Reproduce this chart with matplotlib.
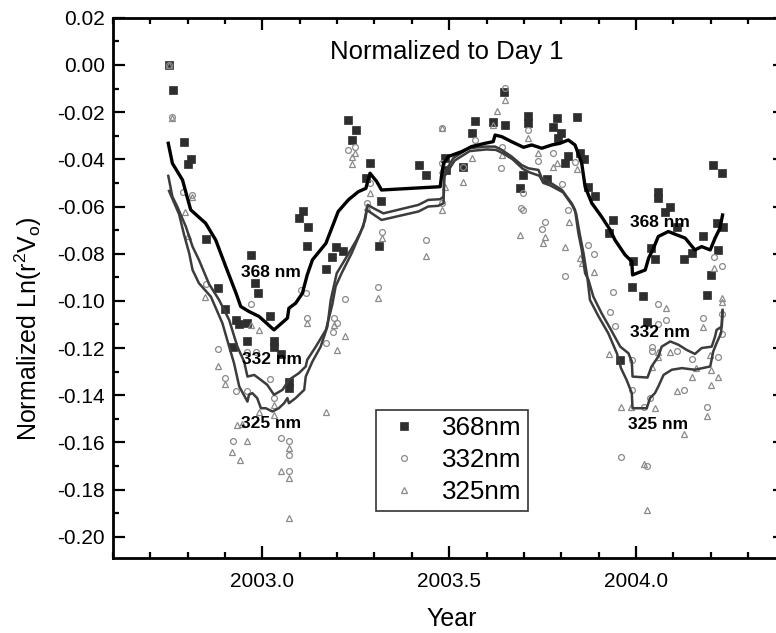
import matplotlib
matplotlib.use("Agg")
import matplotlib.pyplot as plt
from matplotlib.ticker import MultipleLocator

plt.rcParams['font.family'] = ['Liberation Sans', 'DejaVu Sans']
plt.rcParams['mathtext.fontset'] = 'custom'
plt.rcParams['mathtext.rm'] = 'Liberation Sans'

# ---- data: 368 nm points (filled squares)
x368 = [2002.750, 2002.760, 2002.789, 2002.800, 2002.809, 2002.849, 2002.880, 2002.900, 2002.920, 2002.929,
        2002.938, 2002.959, 2002.960, 2002.970, 2002.980, 2002.988, 2003.021, 2003.030, 2003.030, 2003.051,
        2003.070, 2003.070, 2003.098, 2003.110, 2003.120, 2003.121, 2003.170, 2003.187, 2003.196, 2003.217,
        2003.230, 2003.239, 2003.251, 2003.277, 2003.288, 2003.311, 2003.318, 2003.418, 2003.438, 2003.489,
        2003.491, 2003.538, 2003.560, 2003.569, 2003.617, 2003.647, 2003.650, 2003.690, 2003.699, 2003.710,
        2003.710, 2003.761, 2003.779, 2003.788, 2003.791, 2003.800, 2003.810, 2003.819, 2003.841, 2003.851,
        2003.861, 2003.871, 2003.891, 2003.928, 2003.940, 2003.958, 2003.989, 2003.991, 2004.020, 2004.030,
        2004.040, 2004.051, 2004.060, 2004.060, 2004.090, 2004.079, 2004.109, 2004.130, 2004.149, 2004.179,
        2004.190, 2004.200, 2004.207, 2004.218, 2004.221, 2004.230, 2004.232]
y368 = [0.0000, -0.0107, -0.0326, -0.0418, -0.0398, -0.0737, -0.0946, -0.1036, -0.1194, -0.1079,
        -0.1100, -0.1169, -0.1094, -0.0806, -0.0925, -0.0968, -0.1064, -0.1168, -0.1194, -0.1225,
        -0.1342, -0.1370, -0.0647, -0.0617, -0.0768, -0.0686, -0.0866, -0.0812, -0.0770, -0.0787,
        -0.0233, -0.0318, -0.0275, -0.0478, -0.0417, -0.0766, -0.0576, -0.0424, -0.0465, -0.0395,
        -0.0445, -0.0434, -0.0287, -0.0237, -0.0240, -0.0113, -0.0255, -0.0523, -0.0466, -0.0216,
        -0.0244, -0.0484, -0.0264, -0.0226, -0.0308, -0.0287, -0.0417, -0.0384, -0.0219, -0.0373,
        -0.0399, -0.0516, -0.0555, -0.0713, -0.0657, -0.1250, -0.0942, -0.0833, -0.0981, -0.1090,
        -0.0776, -0.0823, -0.0537, -0.0565, -0.0604, -0.0624, -0.0685, -0.0822, -0.0798, -0.0723,
        -0.0975, -0.0890, -0.0424, -0.0671, -0.0784, -0.0456, -0.0685]

# ---- 332 nm points (open circles)
x332 = [2002.750, 2002.759, 2002.788, 2002.811, 2002.850, 2002.880, 2002.901, 2002.920, 2002.930, 2002.960,
        2002.960, 2002.969, 2002.982, 2003.020, 2003.031, 2003.051, 2003.070, 2003.070, 2003.070, 2003.103,
        2003.118, 2003.120, 2003.170, 2003.192, 2003.199, 2003.190, 2003.220, 2003.230, 2003.248, 2003.279,
        2003.288, 2003.309, 2003.319, 2003.437, 2003.480, 2003.480, 2003.480, 2003.538, 2003.569, 2003.638,
        2003.641, 2003.650, 2003.692, 2003.699, 2003.699, 2003.710, 2003.739, 2003.748, 2003.757, 2003.779,
        2003.802, 2003.810, 2003.819, 2003.837, 2003.871, 2003.889, 2003.931, 2003.940, 2003.944, 2003.959,
        2003.989, 2003.989, 2004.023, 2004.030, 2004.038, 2004.042, 2004.042, 2004.060, 2004.060, 2004.080,
        2004.110, 2004.130, 2004.149, 2004.179, 2004.190, 2004.209, 2004.221, 2004.230, 2004.230, 2004.230]
y332 = [0.0000, -0.0220, -0.0537, -0.0551, -0.0928, -0.1205, -0.1325, -0.1596, -0.1384, -0.1215,
        -0.1384, -0.1014, -0.1215, -0.1332, -0.1412, -0.1582, -0.1596, -0.1653, -0.1723, -0.0956,
        -0.0968, -0.1073, -0.1179, -0.1073, -0.1092, -0.1130, -0.0993, -0.0360, -0.0346, -0.0586,
        -0.0502, -0.0942, -0.0706, -0.0742, -0.0268, -0.0417, -0.0586, -0.0434, -0.0318, -0.0435,
        -0.0346, -0.0099, -0.0608, -0.0544, -0.0614, -0.0275, -0.0409, -0.0695, -0.0664, -0.0373,
        -0.0506, -0.0894, -0.0614, -0.0410, -0.0763, -0.0803, -0.1047, -0.0963, -0.1106, -0.1660,
        -0.1250, -0.1377, -0.1448, -0.1698, -0.1412, -0.1194, -0.1212, -0.1013, -0.1099, -0.1081,
        -0.1211, -0.1377, -0.1247, -0.1071, -0.1451, -0.0812, -0.1239, -0.0854, -0.1056, -0.1141]

# ---- 325 nm points (open triangles)
x325 = [2002.750, 2002.759, 2002.793, 2002.802, 2002.811, 2002.847, 2002.880, 2002.901, 2002.918, 2002.933,
        2002.940, 2002.946, 2002.960, 2002.969, 2002.991, 2002.991, 2003.030, 2003.032, 2003.051, 2003.070,
        2003.070, 2003.070, 2003.120, 2003.170, 2003.192, 2003.199, 2003.220, 2003.239, 2003.248, 2003.239,
        2003.279, 2003.288, 2003.309, 2003.319, 2003.438, 2003.480, 2003.480, 2003.480, 2003.489, 2003.538,
        2003.560, 2003.617, 2003.629, 2003.641, 2003.650, 2003.690, 2003.710, 2003.739, 2003.750, 2003.757,
        2003.779, 2003.788, 2003.810, 2003.821, 2003.842, 2003.851, 2003.855, 2003.889, 2003.929, 2003.960,
        2003.987, 2004.023, 2004.030, 2004.042, 2004.050, 2004.058, 2004.060, 2004.080, 2004.092, 2004.109,
        2004.130, 2004.149, 2004.160, 2004.179, 2004.190, 2004.198, 2004.200, 2004.201, 2004.209, 2004.221,
        2004.230, 2004.230]
y325 = [0.0000, -0.0226, -0.0624, -0.0723, -0.0560, -0.0982, -0.1274, -0.1353, -0.1641, -0.1528,
        -0.1674, -0.1521, -0.1593, -0.1102, -0.1123, -0.1469, -0.1441, -0.1483, -0.1720, -0.1624,
        -0.1751, -0.1919, -0.1092, -0.1469, -0.1102, -0.1208, -0.1151, -0.0388, -0.0373, -0.0419,
        -0.0600, -0.0544, -0.0989, -0.0734, -0.0809, -0.0268, -0.0445, -0.0614, -0.0516, -0.0494,
        -0.0395, -0.0254, -0.0194, -0.0381, -0.0148, -0.0720, -0.0311, -0.0373, -0.0753, -0.0730,
        -0.0432, -0.0417, -0.0772, -0.0664, -0.0442, -0.0819, -0.0840, -0.0878, -0.1225, -0.1448,
        -0.1448, -0.1691, -0.1886, -0.1281, -0.1455, -0.1239, -0.1215, -0.1032, -0.1215, -0.1384,
        -0.1564, -0.1323, -0.1285, -0.1109, -0.1486, -0.1229, -0.1295, -0.1356, -0.0861, -0.1323,
        -0.0989, -0.1003]

# ---- smoothed curves
lx368 = [2002.748, 2002.759, 2002.786, 2002.808, 2002.848, 2002.875, 2002.902, 2002.930, 2002.942, 2002.964,
         2002.991, 2003.031, 2003.067, 2003.071, 2003.089, 2003.107, 2003.120, 2003.134, 2003.170, 2003.203,
         2003.230, 2003.257, 2003.277, 2003.288, 2003.306, 2003.319, 2003.476, 2003.480, 2003.485, 2003.498,
         2003.534, 2003.560, 2003.596, 2003.618, 2003.623, 2003.641, 2003.667, 2003.699, 2003.721, 2003.748,
         2003.775, 2003.797, 2003.819, 2003.837, 2003.855, 2003.864, 2003.882, 2003.908, 2003.931, 2003.944,
         2003.971, 2003.989, 2003.991, 2004.025, 2004.034, 2004.047, 2004.060, 2004.087, 2004.109, 2004.132,
         2004.158, 2004.176, 2004.199, 2004.212, 2004.225, 2004.232]
ly368 = [-0.0332, -0.0417, -0.0487, -0.0614, -0.0671, -0.0742, -0.0855, -0.0970, -0.1024, -0.1045,
         -0.1066, -0.1123, -0.1073, -0.1031, -0.1010, -0.0968, -0.0890, -0.0826, -0.0756, -0.0621,
         -0.0572, -0.0537, -0.0523, -0.0459, -0.0494, -0.0530, -0.0516, -0.0466, -0.0417, -0.0388,
         -0.0367, -0.0346, -0.0332, -0.0325, -0.0297, -0.0304, -0.0325, -0.0349, -0.0339, -0.0353,
         -0.0339, -0.0332, -0.0318, -0.0339, -0.0417, -0.0516, -0.0586, -0.0643, -0.0699, -0.0742,
         -0.0805, -0.0833, -0.0890, -0.0869, -0.0819, -0.0777, -0.0727, -0.0706, -0.0720, -0.0734,
         -0.0784, -0.0770, -0.0784, -0.0734, -0.0692, -0.0636]

lx332 = [2002.748, 2002.759, 2002.772, 2002.795, 2002.813, 2002.830, 2002.857, 2002.884, 2002.911, 2002.933,
         2002.951, 2002.960, 2002.978, 2002.996, 2003.013, 2003.031, 2003.054, 2003.071, 2003.098, 2003.116,
         2003.120, 2003.143, 2003.170, 2003.187, 2003.196, 2003.212, 2003.239, 2003.262, 2003.275, 2003.282,
         2003.297, 2003.324, 2003.418, 2003.444, 2003.476, 2003.485, 2003.487, 2003.511, 2003.552, 2003.596,
         2003.623, 2003.641, 2003.667, 2003.694, 2003.712, 2003.739, 2003.748, 2003.766, 2003.802, 2003.828,
         2003.837, 2003.846, 2003.855, 2003.864, 2003.873, 2003.886, 2003.908, 2003.931, 2003.958, 2003.980,
         2003.989, 2003.991, 2004.031, 2004.042, 2004.060, 2004.069, 2004.092, 2004.114, 2004.136, 2004.158,
         2004.176, 2004.203, 2004.212, 2004.216, 2004.230, 2004.232]
ly332 = [-0.0470, -0.0558, -0.0600, -0.0685, -0.0770, -0.0826, -0.0928, -0.0996, -0.1081, -0.1194,
         -0.1257, -0.1321, -0.1314, -0.1335, -0.1356, -0.1398, -0.1377, -0.1335, -0.1306, -0.1278,
         -0.1250, -0.1194, -0.1123, -0.1017, -0.0939, -0.0883, -0.0798, -0.0713, -0.0657, -0.0593,
         -0.0607, -0.0629, -0.0593, -0.0572, -0.0569, -0.0558, -0.0459, -0.0395, -0.0353, -0.0346,
         -0.0346, -0.0360, -0.0388, -0.0424, -0.0438, -0.0445, -0.0480, -0.0494, -0.0530, -0.0586,
         -0.0614, -0.0713, -0.0784, -0.0883, -0.0911, -0.0982, -0.1052, -0.1116, -0.1194, -0.1222,
         -0.1257, -0.1321, -0.1325, -0.1278, -0.1236, -0.1194, -0.1172, -0.1186, -0.1208, -0.1225,
         -0.1200, -0.1194, -0.1151, -0.1123, -0.1109, -0.1038]

lx325 = [2002.750, 2002.777, 2002.790, 2002.804, 2002.813, 2002.830, 2002.862, 2002.893, 2002.911, 2002.924,
         2002.938, 2002.960, 2002.964, 2002.973, 2002.986, 2002.996, 2003.009, 2003.027, 2003.044, 2003.058,
         2003.067, 2003.071, 2003.089, 2003.112, 2003.116, 2003.134, 2003.156, 2003.174, 2003.183, 2003.199,
         2003.226, 2003.252, 2003.270, 2003.279, 2003.319, 2003.418, 2003.444, 2003.471, 2003.485, 2003.487,
         2003.515, 2003.555, 2003.600, 2003.625, 2003.645, 2003.670, 2003.697, 2003.715, 2003.742, 2003.752,
         2003.770, 2003.805, 2003.830, 2003.840, 2003.850, 2003.860, 2003.870, 2003.877, 2003.900, 2003.926,
         2003.949, 2003.960, 2003.975, 2003.989, 2003.991, 2004.029, 2004.038, 2004.051, 2004.060, 2004.074,
         2004.096, 2004.123, 2004.158, 2004.199, 2004.207, 2004.216, 2004.228, 2004.230, 2004.232]
ly325 = [-0.0534, -0.0633, -0.0718, -0.0798, -0.0869, -0.0925, -0.0982, -0.1095, -0.1194, -0.1264,
         -0.1363, -0.1427, -0.1398, -0.1391, -0.1412, -0.1455, -0.1455, -0.1469, -0.1455, -0.1434,
         -0.1412, -0.1434, -0.1412, -0.1377, -0.1321, -0.1257, -0.1194, -0.1109, -0.0996, -0.0883,
         -0.0812, -0.0742, -0.0685, -0.0614, -0.0657, -0.0621, -0.0600, -0.0597, -0.0586, -0.0473,
         -0.0405, -0.0365, -0.0358, -0.0360, -0.0375, -0.0400, -0.0440, -0.0455, -0.0470, -0.0500,
         -0.0510, -0.0540, -0.0596, -0.0630, -0.0720, -0.0800, -0.0900, -0.0996, -0.1066, -0.1137,
         -0.1222, -0.1285, -0.1335, -0.1391, -0.1455, -0.1455, -0.1412, -0.1391, -0.1363, -0.1314,
         -0.1292, -0.1285, -0.1292, -0.1278, -0.1215, -0.1179, -0.1137, -0.1095, -0.1045]

legend_labels = ['368nm', '332nm', '325nm']
curve_labels = ['368 nm', '332 nm', '325 nm']
title_text = 'Normalized to Day 1'

W, H = 776, 633
fig = plt.figure(figsize=(W / 100, H / 100), dpi=100)
left, right, top, bottom = 113, 785.3, 17.8, 558
ax = fig.add_axes([left / W, (H - bottom) / H, (right - left) / W, (bottom - top) / H])

sq = ax.plot(x368, y368, ls='none', marker='s', ms=5.4, mfc='#2e2e2e', mec='#2e2e2e', mew=0.5,
             label=legend_labels[0], zorder=2)[0]
ci = ax.plot(x332, y332, ls='none', marker='o', ms=4.2, mfc='none', mec='#8a8a8a', mew=0.9,
             label=legend_labels[1], zorder=3)[0]
tr = ax.plot(x325, y325, ls='none', marker='^', ms=4.8, mfc='none', mec='#8a8a8a', mew=0.9,
             label=legend_labels[2], zorder=3)[0]

ax.plot(lx325, ly325, color='#3c3c3c', lw=1.8, zorder=4)
ax.plot(lx332, ly332, color='#3c3c3c', lw=1.8, zorder=4)
ax.plot(lx368, ly368, color='#000000', lw=2.4, zorder=5)

ax.set_xlim(2002.6, 2004.4)
ax.set_ylim(-0.209, 0.02)

ax.xaxis.set_major_locator(MultipleLocator(0.5))
ax.xaxis.set_minor_locator(MultipleLocator(0.1))
ax.yaxis.set_major_locator(MultipleLocator(0.02))
ax.yaxis.set_minor_locator(MultipleLocator(0.01))
ax.xaxis.set_major_formatter(plt.FuncFormatter(lambda v, p: f'{v:.1f}'))
ax.yaxis.set_major_formatter(plt.FuncFormatter(lambda v, p: f'{v:.2f}'.replace('-0.00', '0.00')))

ax.tick_params(which='both', direction='in', top=True, right=True, width=1.6, colors='black')
ax.tick_params(which='major', length=8.5)
ax.tick_params(which='minor', length=4.5)
ax.tick_params(axis='x', which='major', labelsize=15, pad=10)
ax.tick_params(axis='y', which='major', labelsize=15, pad=6)
for s in ax.spines.values():
    s.set_linewidth(2.0)

fig.text(28 / W, 1 - 329 / H, r'Normalized Ln(r$^{\mathregular{2}}$V$_{\mathregular{o}}$)',
         rotation=90, ha='center', va='center', fontsize=18)
fig.text(452 / W, 1 - 619 / H, 'Year', ha='center', va='center', fontsize=18)

ax.text(2003.493, 0.0024, title_text, ha='center', va='baseline', fontsize=18.5)

bold = dict(fontsize=12.5, fontweight='bold', ha='center', va='center', zorder=6)
ax.text(2003.022, -0.0879, curve_labels[0], **bold)
ax.text(2003.027, -0.1250, curve_labels[1], **bold)
ax.text(2003.024, -0.1521, curve_labels[2], **bold)
ax.text(2004.065, -0.0668, curve_labels[0], **bold)
ax.text(2004.065, -0.1134, curve_labels[1], **bold)
ax.text(2004.060, -0.1522, curve_labels[2], **bold)

leg = ax.legend(handles=[sq, ci, tr], loc='upper left', bbox_to_anchor=(0.391, 0.274),
                borderaxespad=0, fontsize=18.7, frameon=True, fancybox=False, edgecolor='black',
                handlelength=1.7, handletextpad=0.6, borderpad=0.25, labelspacing=0.3,
                markerscale=1.0)
leg.get_frame().set_linewidth(1.2)

fig.savefig('out.png', dpi=100)
